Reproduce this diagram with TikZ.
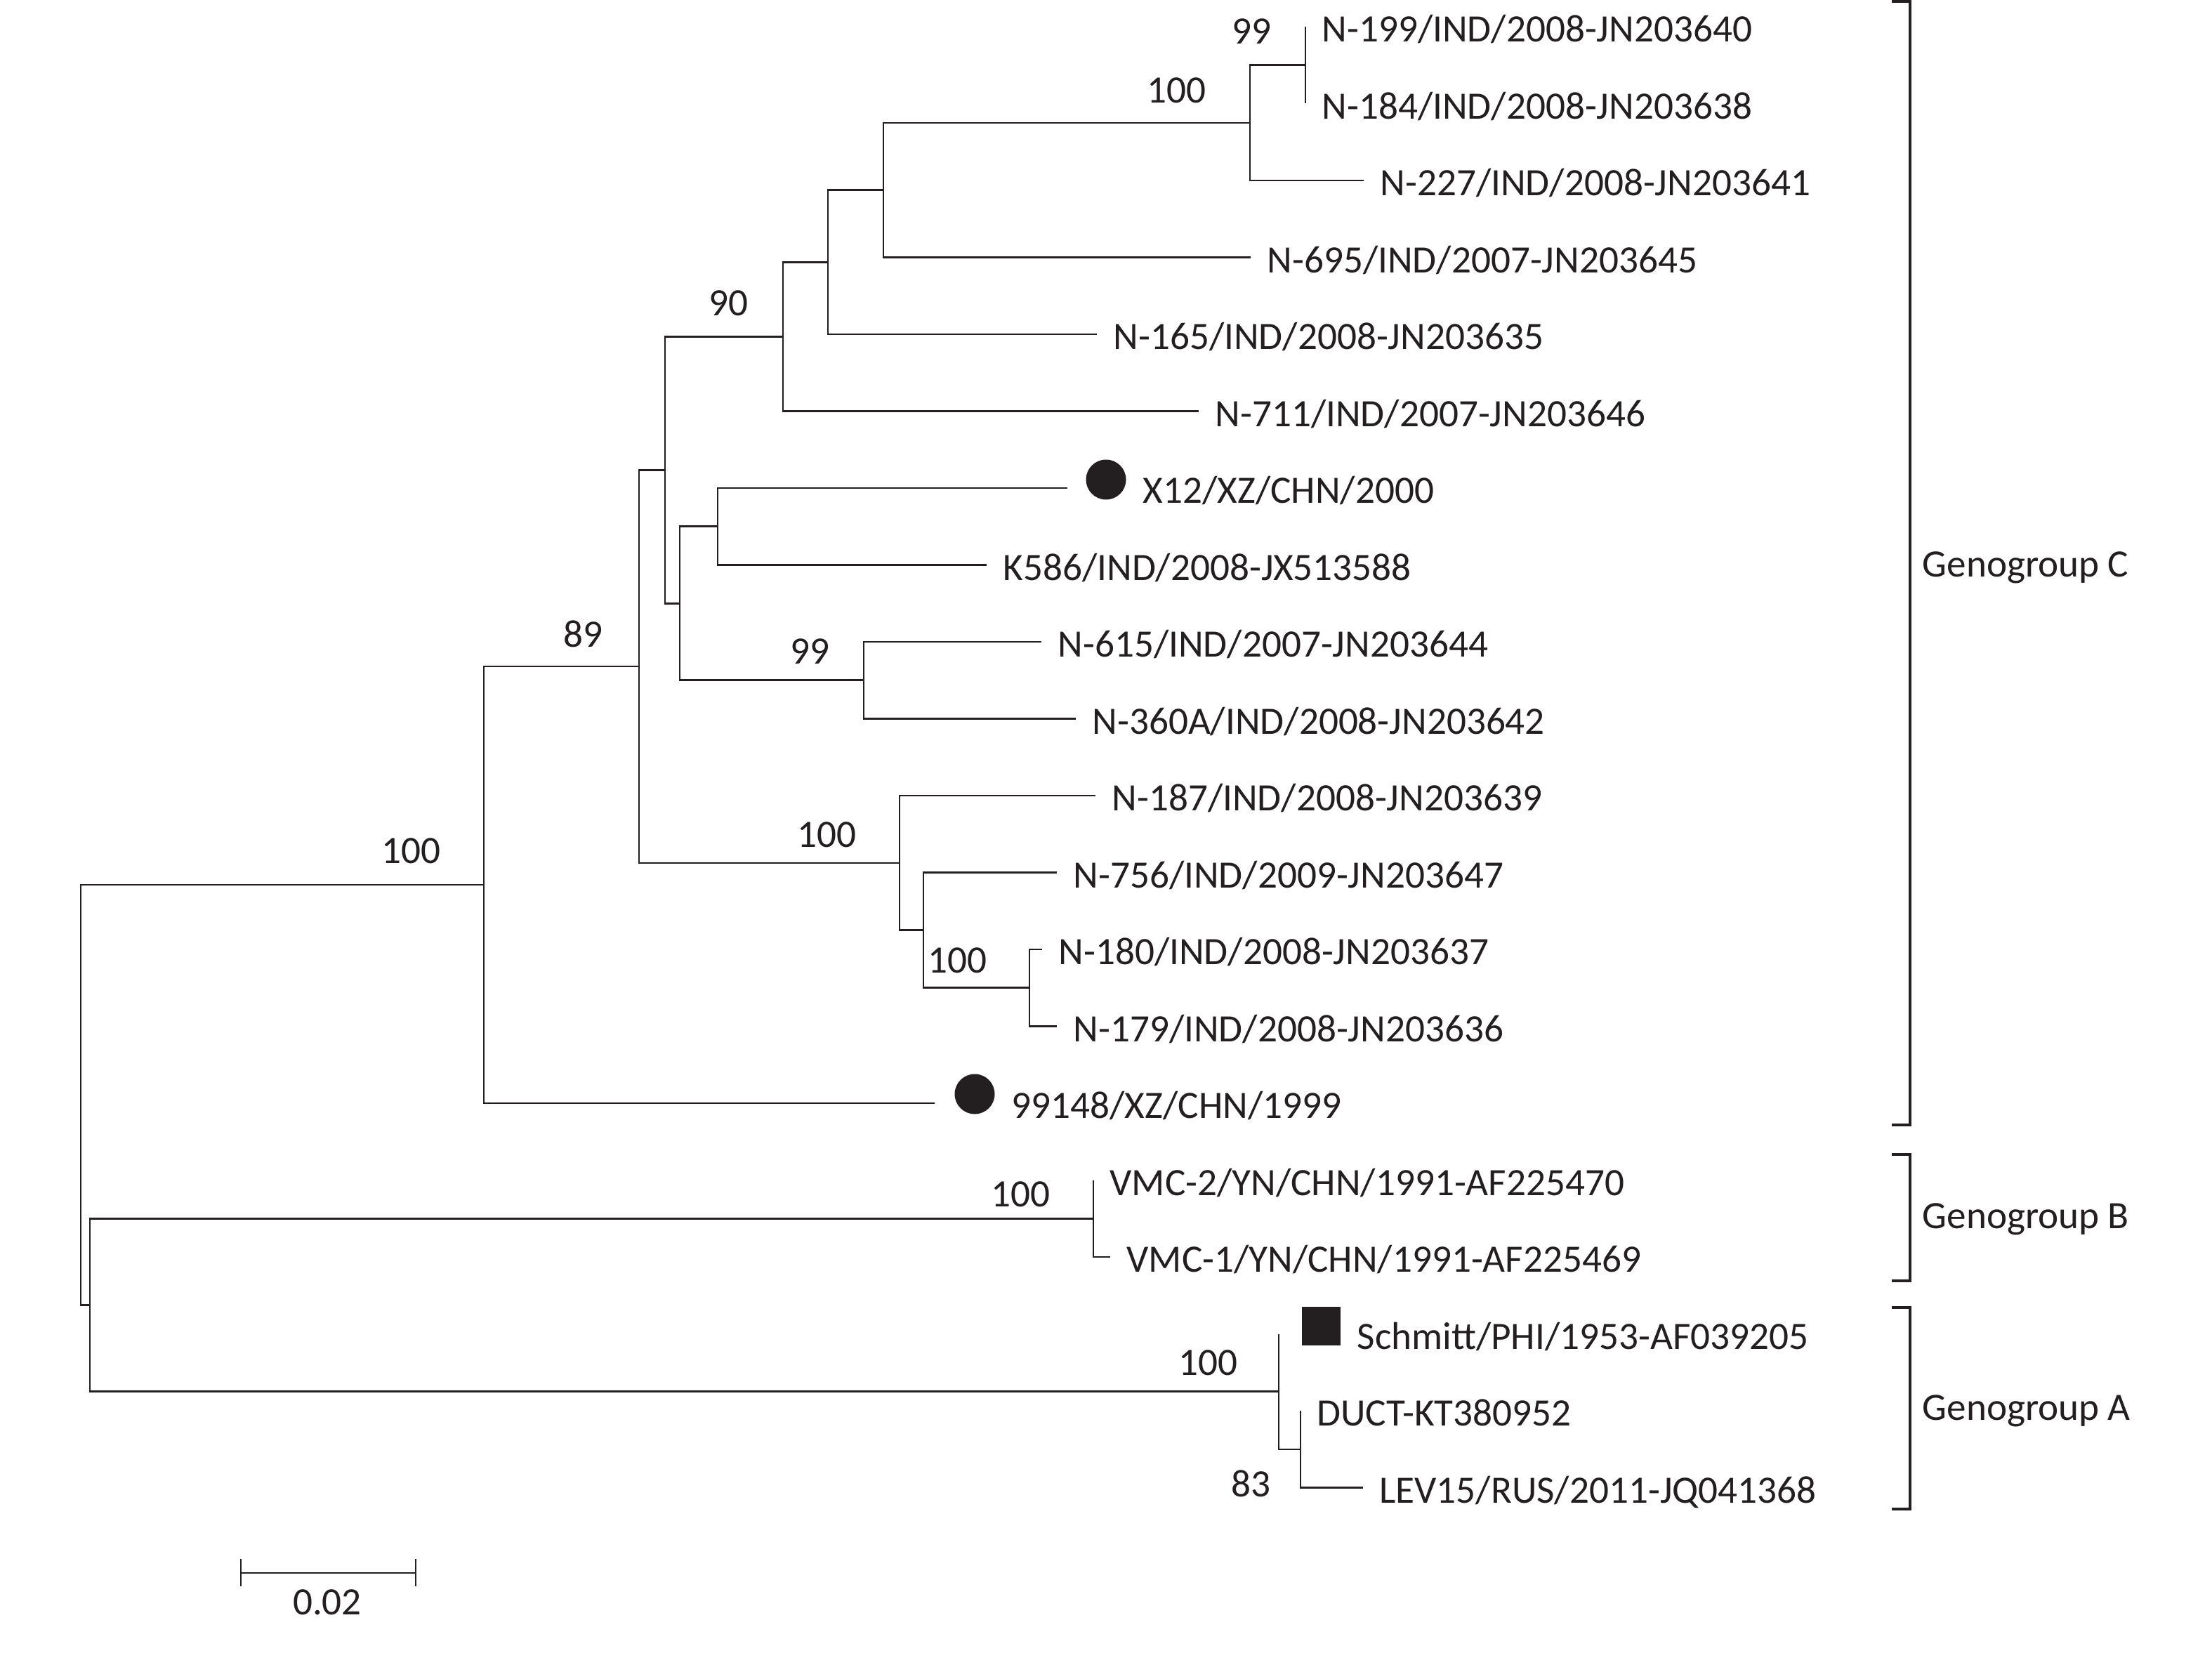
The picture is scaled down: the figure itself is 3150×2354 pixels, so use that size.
\documentclass[tikz,border=0pt]{standalone}
\usepackage{fontspec}
\setmainfont{Carlito}
\usetikzlibrary{calc}
\definecolor{ink}{RGB}{35,31,32}
\tikzstyle{branch}=[draw=ink, line width=0.72pt]
\tikzstyle{clade}=[draw=ink, line width=1.1pt]
\tikzstyle{leaf}=[anchor=base west, inner sep=0pt, xshift=6.5pt, yshift=-6.2pt, text=ink]
\tikzstyle{boot}=[inner sep=0pt, text=ink]
\tikzstyle{group}=[anchor=base west, inner sep=0pt, yshift=-6.2pt, text=ink]
\tikzstyle{dot}=[circle, fill=ink, minimum size=0.57cm, inner sep=0pt]
\tikzstyle{sq}=[rectangle, fill=ink, minimum size=0.55cm, inner sep=0pt]

\begin{document}
\begin{tikzpicture}[x=0.1mm, y=-0.1mm, font=\fontsize{15.7}{18}\selectfont]

  \useasboundingbox[fill=white] (0,0) rectangle (3150,2354);

  % tips of the leaves
  \foreach \name/\x/\y in {N199/1859/38, N184/1859/147.5, N227/1942/257, N695/1781/366.5,
      N165/1562/476, N711/1707/585.5, X12/1520/695, K586/1405/804.5, N615/1483/914,
      N360A/1532/1023.5, N187/1560/1133, N756/1505/1242.5, N180/1484/1352, N179/1505/1461.5,
      CHN99/1331/1571, VMC2/1557/1680.5, VMC1/1581/1790, Schmitt/1821/1899.5,
      DUCT/1852/2009, LEV15/1941/2118.5}
    \coordinate (\name) at (\x,\y);

  % inner nodes
  \foreach \name/\x/\y in {nroot/115/1559, nC100/689/1260, n89/910/949, nsub/947/669.3,
      n90/1115/479.4, nq/1179/373.3, np/1258/270.7, n100a/1780/174.9, n99a/1859/92.75,
      nx/968/859.25, ny/1022/749.75, n99b/1230/968.75, n100b/1281/1228.8, nz/1315/1324.6,
      n100c/1466/1406.75, nBA/128/1858.4, nB100/1557/1735.25, nA100/1821/1981.6,
      nA83/1852/2063.75}
    \coordinate (\name) at (\x,\y);

  \foreach \source/\dest in {nroot/nC100, nroot/nBA, nC100/n89, nC100/CHN99, n89/nsub, n89/n100b,
      nsub/n90, nsub/nx, n90/nq, n90/N711, nq/np, nq/N165, np/n100a, np/N695, n100a/n99a,
      n100a/N227, n99a/N199, n99a/N184, nx/ny, nx/n99b, ny/X12, ny/K586, n99b/N615, n99b/N360A,
      n100b/N187, n100b/nz, nz/N756, nz/n100c, n100c/N180, n100c/N179, nBA/nB100, nBA/nA100,
      nB100/VMC2, nB100/VMC1, nA100/Schmitt, nA100/nA83, nA83/DUCT, nA83/LEV15}
    \draw[branch] (\source) |- (\dest);

  % markers
  \node[dot] (mX12) at (1575,683) {};
  \node[dot] (mCHN99) at (1388,1558) {};
  \node[sq] (mSchmitt) at (1881,1888) {};

  % leaf names
  \node[leaf] (tN199) at (N199) {N-199/IND/2008-JN203640};
  \node[leaf] (tN184) at (N184) {N-184/IND/2008-JN203638};
  \node[leaf] (tN227) at (N227) {N-227/IND/2008-JN203641};
  \node[leaf] (tN695) at (N695) {N-695/IND/2007-JN203645};
  \node[leaf] (tN165) at (N165) {N-165/IND/2008-JN203635};
  \node[leaf] (tN711) at (N711) {N-711/IND/2007-JN203646};
  \node[leaf] (tX12) at (mX12.east |- X12) {X12/XZ/CHN/2000};
  \node[leaf] (tK586) at (K586) {K586/IND/2008-JX513588};
  \node[leaf] (tN615) at (N615) {N-615/IND/2007-JN203644};
  \node[leaf] (tN360A) at (N360A) {N-360A/IND/2008-JN203642};
  \node[leaf] (tN187) at (N187) {N-187/IND/2008-JN203639};
  \node[leaf] (tN756) at (N756) {N-756/IND/2009-JN203647};
  \node[leaf] (tN180) at (N180) {N-180/IND/2008-JN203637};
  \node[leaf] (tN179) at (N179) {N-179/IND/2008-JN203636};
  \node[leaf] (tCHN99) at (mCHN99.east |- CHN99) {99148/XZ/CHN/1999};
  \node[leaf] (tVMC2) at (VMC2) {VMC-2/YN/CHN/1991-AF225470};
  \node[leaf] (tVMC1) at (VMC1) {VMC-1/YN/CHN/1991-AF225469};
  \node[leaf] (tSchmitt) at (mSchmitt.east |- Schmitt) {Schmitt/PHI/1953-AF039205};
  \node[leaf] (tDUCT) at (DUCT) {DUCT-KT380952};
  \node[leaf] (tLEV15) at (LEV15) {LEV15/RUS/2011-JQ041368};

  % bootstrap values
  \node[boot] (b99a) at (1782,45) {99};
  \node[boot] (b100a) at (1675,129) {100};
  \node[boot] (b90) at (1037,432) {90};
  \node[boot] (b89) at (830,903) {89};
  \node[boot] (bC100) at (585,1212) {100};
  \node[boot] (b99b) at (1153,928) {99};
  \node[boot] (b100b) at (1177,1189) {100};
  \node[boot] (b100c) at (1363,1368) {100};
  \node[boot] (bB100) at (1453,1701) {100};
  \node[boot] (bA100) at (1720,1941) {100};
  \node[boot] (bA83) at (1781,2113) {83};

  % genogroups
  \draw[clade] (2694,2) -- (2720,2) -- (2720,1602) -- (2694,1602);
  \draw[clade] (2694,1644) -- (2720,1644) -- (2720,1824) -- (2694,1824);
  \draw[clade] (2694,1862) -- (2720,1862) -- (2720,2149) -- (2694,2149);
  \node[group] (gC) at (2737,800) {Genogroup C};
  \node[group] (gB) at (2737,1728) {Genogroup B};
  \node[group] (gA) at (2737,2001) {Genogroup A};

  % scale bar
  \draw[branch] (343,2240) -- (592,2240);
  \draw[branch] (343,2220) -- (343,2259);
  \draw[branch] (592,2220) -- (592,2259);
  \node[boot] (scale) at (466,2282) {0.02};

\end{tikzpicture}
\end{document}
